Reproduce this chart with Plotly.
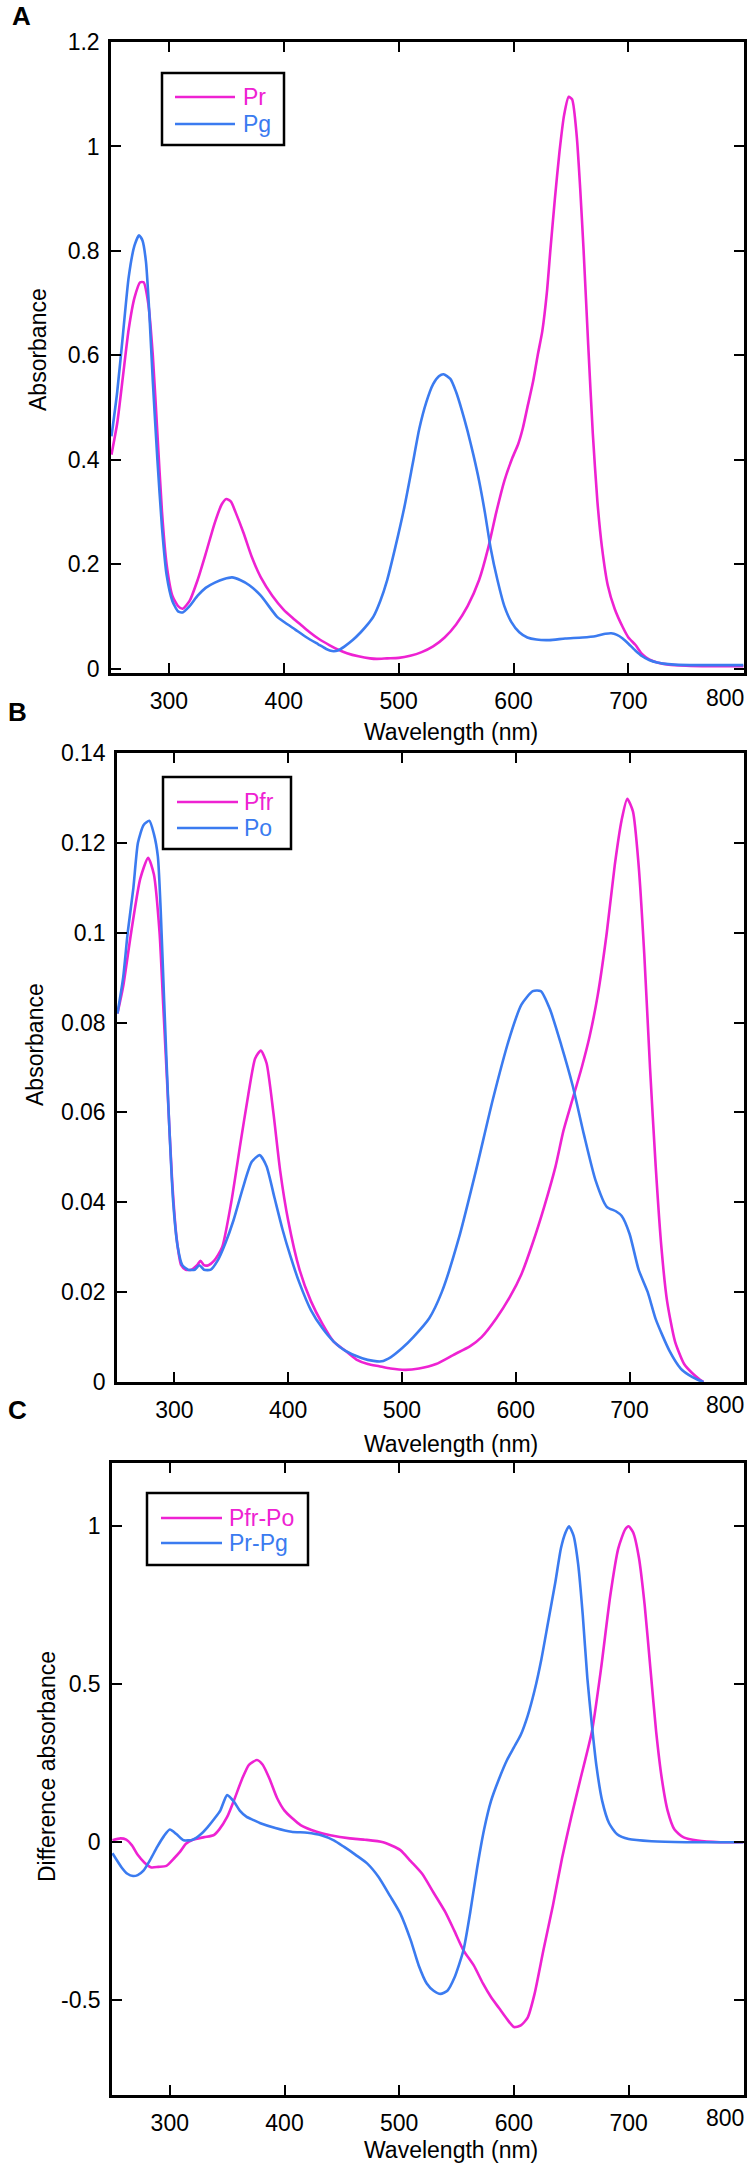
import plotly.graph_objects as go

# ---------------- data ----------------
# Panel A
pr_wl = [250, 255, 260, 265, 270, 275, 278, 282, 286, 290, 294, 298, 303, 308, 312, 318, 325, 332, 340, 346,
         350, 354, 358, 365, 372, 380, 390, 400, 408, 415, 422, 430, 440, 447, 455, 465, 475, 481, 490, 500,
         510, 520, 530, 540, 550, 560, 570, 578, 585, 592, 599, 604, 608, 612, 617, 621, 625, 629, 632,
         636, 640, 644, 648, 651, 655, 658, 661, 665, 669, 673, 677, 682, 688, 695, 700, 706, 712, 718, 725,
         735, 750, 770, 800]
pr_abs = [0.41, 0.47, 0.56, 0.65, 0.71, 0.74, 0.74, 0.70, 0.60, 0.45, 0.30, 0.20, 0.14, 0.12, 0.115, 0.13, 0.17, 0.22, 0.28, 0.315,
          0.325, 0.32, 0.30, 0.26, 0.215, 0.175, 0.14, 0.113, 0.097, 0.084, 0.071, 0.058, 0.045, 0.037, 0.03, 0.024, 0.02, 0.019, 0.02, 0.021,
          0.025, 0.032, 0.043, 0.06, 0.085, 0.12, 0.17, 0.232, 0.30, 0.36, 0.404, 0.43, 0.46, 0.50, 0.55, 0.60, 0.646, 0.72, 0.80,
          0.90, 0.99, 1.06, 1.095, 1.09, 1.02, 0.92, 0.80, 0.62, 0.45, 0.32, 0.232, 0.16, 0.115, 0.08, 0.06, 0.046, 0.028, 0.018, 0.012,
          0.008, 0.006, 0.005, 0.005]

pg_wl = [250, 255, 260, 265, 270, 274, 277, 280, 283, 286, 290, 294, 298, 303, 308, 312, 318, 325, 332, 340,
         348, 355, 362, 370, 380, 394, 400, 410, 420, 430, 437, 442, 447, 453, 460, 467, 473, 478, 484, 490, 497,
         505, 512, 518, 524, 530, 535, 539, 545, 550, 555, 560, 565, 570, 575, 580, 586, 592, 598, 605, 612,
         620, 631, 645, 660, 672, 680, 685, 690, 695, 700, 706, 712, 718, 725, 730, 740, 760, 800]
pg_abs = [0.445, 0.53, 0.64, 0.75, 0.81, 0.83, 0.82, 0.78, 0.68, 0.55, 0.40, 0.27, 0.18, 0.13, 0.11, 0.108, 0.12, 0.14, 0.155, 0.165,
          0.172, 0.175, 0.17, 0.16, 0.14, 0.10, 0.09, 0.075, 0.06, 0.047, 0.038, 0.034, 0.035, 0.043, 0.055, 0.07, 0.085, 0.10, 0.13, 0.17, 0.232,
          0.31, 0.39, 0.46, 0.51, 0.545, 0.56, 0.564, 0.555, 0.53, 0.495, 0.455, 0.41, 0.36, 0.30, 0.232, 0.17, 0.12, 0.09, 0.07, 0.06,
          0.056, 0.055, 0.058, 0.06, 0.063, 0.067, 0.068, 0.065, 0.058, 0.048, 0.035, 0.024, 0.017, 0.012, 0.01, 0.008, 0.007, 0.007]

# Panel B
pfr_wl = [250, 255, 262, 270, 277, 282, 287, 290, 294, 298, 302, 306, 310, 315, 320, 323, 326, 330, 335, 342,
          350, 358, 365, 371, 376, 381, 387, 393, 400, 410, 420, 430, 440, 450, 460, 470, 480, 490, 503, 515,
          530, 545, 560, 570, 583, 595, 605, 615, 625, 635, 642, 650, 658, 665, 672, 680, 687, 693, 698, 703,
          708, 713, 718, 723, 728, 733, 740, 748, 755, 762, 765]
pfr_abs = [0.082, 0.088, 0.100, 0.112, 0.1167, 0.113, 0.100, 0.085, 0.065, 0.045, 0.032, 0.026, 0.025, 0.025, 0.026, 0.027, 0.026, 0.026, 0.027, 0.030,
           0.040, 0.053, 0.064, 0.072, 0.0738, 0.071, 0.060, 0.047, 0.036, 0.025, 0.018, 0.013, 0.009, 0.007, 0.005, 0.004, 0.0035, 0.003, 0.0027, 0.003,
           0.004, 0.006, 0.008, 0.010, 0.0142, 0.019, 0.024, 0.031, 0.039, 0.048, 0.056, 0.063, 0.070, 0.077, 0.086, 0.100, 0.115, 0.125, 0.1298, 0.127,
           0.115, 0.095, 0.070, 0.048, 0.030, 0.018, 0.009, 0.004, 0.002, 0.0005, 0.0]

po_wl = [250, 255, 259, 264, 268, 273, 278, 282, 285.5, 288, 291, 295, 299, 303, 307, 312, 318, 322, 326, 332,
         338, 345, 352, 360, 368, 375, 381, 388, 395, 402, 410, 420, 430, 440, 450, 465, 475, 482, 490, 500,
         510, 524, 535, 550, 565, 580, 595, 605, 615, 622, 630, 640, 650, 660, 670, 680, 688, 693, 700, 708,
         716, 723, 735, 745, 752, 760, 765]
po_abs = [0.082, 0.090, 0.100, 0.110, 0.120, 0.124, 0.1249, 0.122, 0.117, 0.105, 0.085, 0.060, 0.040, 0.030, 0.026, 0.025, 0.025, 0.026, 0.025, 0.025,
          0.027, 0.031, 0.036, 0.043, 0.049, 0.0505, 0.048, 0.041, 0.034, 0.028, 0.022, 0.016, 0.012, 0.009, 0.007, 0.0053, 0.0047, 0.0046, 0.0055, 0.0075,
          0.010, 0.0142, 0.020, 0.032, 0.047, 0.063, 0.077, 0.084, 0.087, 0.087, 0.083, 0.075, 0.066, 0.055, 0.045, 0.039, 0.038, 0.037, 0.033, 0.025,
          0.020, 0.014, 0.007, 0.003, 0.0016, 0.0005, 0.0]

# Panel C
d1_wl = [250, 257, 262, 267, 272, 278, 284, 290, 297, 304, 309, 314, 320, 330, 338, 343, 350, 356, 363, 369,
         376, 381, 387, 393.5, 400, 407, 414, 428, 440, 457, 470, 486, 501, 510, 520, 530, 540, 548, 556, 565,
         573, 580, 587, 594, 600, 606, 612, 618, 625.7, 634, 642, 650, 658, 668, 676, 684, 691, 697, 700, 704,
         709, 714, 719, 724, 729, 734, 740, 748, 760, 780, 800]
d1_val = [0.006, 0.012, 0.008, -0.01, -0.04, -0.065, -0.08, -0.078, -0.075, -0.05, -0.03, -0.005, 0.008, 0.016, 0.022, 0.04, 0.08, 0.133, 0.2, 0.245,
          0.26, 0.245, 0.2, 0.14, 0.10, 0.075, 0.054, 0.033, 0.022, 0.012, 0.008, 0.0, -0.025, -0.06, -0.10, -0.16, -0.22, -0.28, -0.342, -0.39,
          -0.447, -0.49, -0.525, -0.56, -0.585, -0.58, -0.555, -0.48, -0.342, -0.2, -0.05, 0.08, 0.2, 0.35, 0.55, 0.78, 0.93, 0.99, 1.0, 0.98,
          0.9, 0.75, 0.55, 0.35, 0.2, 0.1, 0.04, 0.015, 0.005, 0.0, 0.0]

d2_wl = [250, 258, 263, 268, 272, 277, 283, 289, 295, 300, 306, 312, 320, 327, 333, 339, 344, 350, 356, 361,
         367, 373, 379, 392, 406, 420, 432, 443, 452, 462, 472, 482, 492, 501, 510, 517, 524, 530, 536, 542,
         548, 556, 562, 568, 574, 580, 587, 594, 600, 606, 612, 618, 624, 630, 636, 641, 645, 648, 652, 656,
         660, 664, 668, 672, 677, 683, 690, 700, 720, 750, 800]
d2_val = [-0.035, -0.08, -0.1, -0.107, -0.104, -0.09, -0.055, -0.015, 0.02, 0.04, 0.025, 0.006, 0.008, 0.025, 0.048, 0.075, 0.1, 0.149, 0.128, 0.1,
          0.08, 0.07, 0.06, 0.045, 0.033, 0.03, 0.022, 0.006, -0.015, -0.04, -0.067, -0.11, -0.17, -0.226, -0.31, -0.39, -0.447, -0.47, -0.48, -0.47,
          -0.43, -0.342, -0.22, -0.08, 0.04, 0.13, 0.2, 0.26, 0.3, 0.34, 0.4, 0.48, 0.58, 0.7, 0.82, 0.93, 0.98, 1.0, 0.97, 0.88,
          0.72, 0.52, 0.37, 0.24, 0.13, 0.06, 0.025, 0.01, 0.003, 0.0, 0.0]

x_ticks = [300, 400, 500, 600, 700, 800]
x_text = ["300", "400", "500", "600", "700", ""]   # "800" is placed flush with the axis end below
x_last = "800"
ya_ticks = [0, 0.2, 0.4, 0.6, 0.8, 1.0, 1.2]
ya_text = ["0", "0.2", "0.4", "0.6", "0.8", "1", "1.2"]
yb_ticks = [0, 0.02, 0.04, 0.06, 0.08, 0.10, 0.12, 0.14]
yb_text = ["0", "0.02", "0.04", "0.06", "0.08", "0.1", "0.12", "0.14"]
yc_ticks = [-0.5, 0, 0.5, 1]
yc_text = ["-0.5", "0", "0.5", "1"]

legend_a = ["Pr", "Pg"]
legend_b = ["Pfr", "Po"]
legend_c = ["Pfr-Po", "Pr-Pg"]

# ---------------- styling ----------------
W, H = 756, 2166
MAG = "#EE22D2"
BLU = "#3B7BF0"
FONT = "Liberation Sans, Arial, Helvetica, sans-serif"
FS = 23


def fx(px):
    return px / W


def fy(py):
    return 1 - py / H


fig = go.Figure()

lw = 2.6
fig.add_trace(go.Scatter(x=pr_wl, y=pr_abs, mode="lines", line=dict(color=MAG, width=lw), xaxis="x", yaxis="y", name="Pr"))
fig.add_trace(go.Scatter(x=pg_wl, y=pg_abs, mode="lines", line=dict(color=BLU, width=lw), xaxis="x", yaxis="y", name="Pg"))
fig.add_trace(go.Scatter(x=pfr_wl, y=pfr_abs, mode="lines", line=dict(color=MAG, width=lw), xaxis="x2", yaxis="y2", name="Pfr"))
fig.add_trace(go.Scatter(x=po_wl, y=po_abs, mode="lines", line=dict(color=BLU, width=lw), xaxis="x2", yaxis="y2", name="Po"))
fig.add_trace(go.Scatter(x=d1_wl, y=d1_val, mode="lines", line=dict(color=MAG, width=lw), xaxis="x3", yaxis="y3", name="Pfr-Po"))
fig.add_trace(go.Scatter(x=d2_wl, y=d2_val, mode="lines", line=dict(color=BLU, width=lw), xaxis="x3", yaxis="y3", name="Pr-Pg"))
for tr in fig.data:
    tr.line.shape = "spline"
    tr.line.smoothing = 0.6

XR = [249.6, 800.6]


def xax(dom, anchor):
    return dict(domain=dom, anchor=anchor, range=XR, tickvals=x_ticks, ticktext=x_text,
                showline=True, linecolor="black", linewidth=2.5, mirror="ticks",
                ticks="inside", ticklen=10, tickwidth=2, tickcolor="black",
                showgrid=False, zeroline=False, automargin=False,
                tickfont=dict(family=FONT, size=FS, color="black"), ticklabelstandoff=6)


def yax(dom, anchor, rng, tv, tt):
    return dict(domain=dom, anchor=anchor, range=rng, tickvals=tv, ticktext=tt,
                showline=True, linecolor="black", linewidth=2.5, mirror="ticks",
                ticks="inside", ticklen=10, tickwidth=2, tickcolor="black",
                showgrid=False, zeroline=False, automargin=False,
                tickfont=dict(family=FONT, size=FS, color="black"), ticklabelstandoff=4)


fig.update_layout(
    width=W, height=H, autosize=False,
    margin=dict(l=0, r=0, t=0, b=0),
    paper_bgcolor="white", plot_bgcolor="white",
    showlegend=False,
    font=dict(family=FONT, size=FS, color="black"),
    xaxis=xax([fx(111), fx(744)], "y"),
    yaxis=yax([fy(673), fy(42)], "x", [-0.008, 1.2], ya_ticks, ya_text),
    xaxis2=xax([fx(117), fx(744)], "y2"),
    yaxis2=yax([fy(1382), fy(753)], "x2", [0, 0.14], yb_ticks, yb_text),
    xaxis3=xax([fx(112), fx(744)], "y3"),
    yaxis3=yax([fy(2095), fy(1463)], "x3", [-0.8, 1.2], yc_ticks, yc_text),
)

shapes = []
annotations = []


def add_legend(box, line_x, text_x, ys, labels):
    x0, y0, x1, y1 = box
    shapes.append(dict(type="rect", xref="paper", yref="paper",
                       x0=fx(x0), x1=fx(x1), y0=fy(y1), y1=fy(y0),
                       line=dict(color="black", width=2.5), fillcolor="white", layer="above"))
    for yy, lab, col in zip(ys, labels, [MAG, BLU]):
        shapes.append(dict(type="line", xref="paper", yref="paper",
                           x0=fx(line_x[0]), x1=fx(line_x[1]), y0=fy(yy), y1=fy(yy),
                           line=dict(color=col, width=2.5), layer="above"))
        annotations.append(dict(text=lab, xref="paper", yref="paper", x=fx(text_x), y=fy(yy),
                                xanchor="left", yanchor="middle", showarrow=False,
                                font=dict(family=FONT, size=FS, color=col)))


add_legend((162, 73, 284, 145), (175, 235), 241, (97, 124), legend_a)
add_legend((163, 777, 291, 849), (177, 238), 242, (802, 828), legend_b)
add_legend((147, 1493, 308, 1565), (161, 222), 227, (1518, 1543), legend_c)


def text(t, x, y, size=FS, bold=False, angle=0, anchor="center"):
    annotations.append(dict(text=("<b>%s</b>" % t) if bold else t, xref="paper", yref="paper",
                            x=fx(x), y=fy(y), xanchor=anchor, yanchor="middle",
                            showarrow=False, textangle=angle,
                            font=dict(family=FONT, size=size, color="black")))


# panel letters
text("A", 10, 16, size=26, bold=True, anchor="left")
text("B", 6, 712, size=26, bold=True, anchor="left")
text("C", 6, 1410, size=26, bold=True, anchor="left")

# last x tick label, flush with the right end of each axis
text(x_last, 746, 698, anchor="right")
text(x_last, 746, 1405, anchor="right")
text(x_last, 746, 2118, anchor="right")

# axis titles
text("Wavelength (nm)", 451, 732)
text("Wavelength (nm)", 451, 1444)
text("Wavelength (nm)", 451, 2150)
text("Absorbance", 38, 350, angle=-90)
text("Absorbance", 35, 1045, angle=-90)
text("Difference absorbance", 47, 1767, angle=-90)

fig.update_layout(shapes=shapes, annotations=annotations)

# remove the browser's default 8px page margin so the figure fills the window exactly
fig.write_html("out.html",
               config={"displayModeBar": False},
               post_script="document.body.style.margin='0';document.body.style.overflow='hidden';")
